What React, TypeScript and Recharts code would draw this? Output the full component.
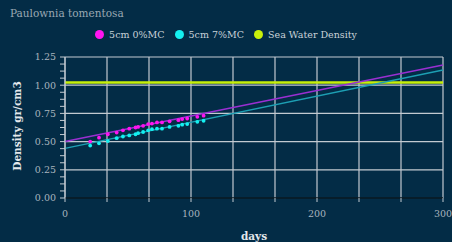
import React from 'react';
import {
  ComposedChart,
  Scatter,
  Line,
  XAxis,
  YAxis,
  CartesianGrid,
  ReferenceLine
} from 'recharts';

const days = [20, 27, 34, 41, 46, 51, 56, 58, 62, 66, 69, 73, 77, 83, 90, 93, 97, 105, 110];
const mc0 = [0.5, 0.535, 0.565, 0.58, 0.6, 0.615, 0.625, 0.63, 0.64, 0.655, 0.66, 0.67, 0.67, 0.68, 0.69, 0.7, 0.705, 0.72, 0.73];
const mc7 = [0.465, 0.485, 0.505, 0.53, 0.545, 0.555, 0.565, 0.575, 0.585, 0.6, 0.61, 0.615, 0.615, 0.63, 0.64, 0.65, 0.655, 0.675, 0.685];

const fitDays = [0, 300];
const fit0 = [0.5, 1.18];
const fit7 = [0.44, 1.135];
const seaWater = [1.025, 1.025];

const xTicks = [0, 100 / 3, 200 / 3, 100, 400 / 3, 500 / 3, 200, 700 / 3, 800 / 3, 300];
const yTicks = [0, 0.0625, 0.125, 0.1875, 0.25, 0.3125, 0.375, 0.4375, 0.5, 0.5625, 0.625, 0.6875, 0.75, 0.8125, 0.875, 0.9375, 1, 1.0625, 1.125, 1.1875, 1.25];
const yGrid = [0.25, 0.5, 0.75, 1, 1.25];

const pts0 = days.map((d, i) => ({ day: d, v: mc0[i] }));
const pts7 = days.map((d, i) => ({ day: d, v: mc7[i] }));
const line0 = fitDays.map((d, i) => ({ day: d, v: fit0[i] }));
const line7 = fitDays.map((d, i) => ({ day: d, v: fit7[i] }));
const lineSea = fitDays.map((d, i) => ({ day: d, v: seaWater[i] }));

const BG = '#032c46';
const GRID = '#c3cad1';
const FONT = '"DejaVu Serif", serif';

const Dot = (color: string) => (props: any) => (
  <circle cx={props.cx} cy={props.cy} r={1.9} fill={color} />
);

const legend = [
  { name: '5cm 0%MC', color: '#ff14f0' },
  { name: '5cm 7%MC', color: '#14f0f0' },
  { name: 'Sea Water Density', color: '#c8f00a' }
];

export default function App() {
  return (
    <div style={{ position: 'fixed', left: 0, top: 0, width: 452, height: 242, background: BG, overflow: 'hidden', fontFamily: FONT }}>
      <div style={{ position: 'absolute', left: 10, top: 7, fontSize: 10.5, color: '#9aa8b3' }}>Paulownia tomentosa</div>
      <div style={{ position: 'absolute', left: 0, top: 29, width: 452, display: 'flex', justifyContent: 'center', gap: 10, fontSize: 9.5, color: '#c9d2d9' }}>
        {legend.map((l) => (
          <div key={l.name} style={{ display: 'flex', alignItems: 'center', gap: 5 }}>
            <span style={{ width: 9, height: 9, borderRadius: 5, background: l.color, display: 'inline-block' }} />
            <span>{l.name}</span>
          </div>
        ))}
      </div>
      <div style={{ position: 'absolute', left: 17, top: 126, transform: 'translate(-50%, -50%) rotate(-90deg)', fontSize: 10.5, fontWeight: 'bold', color: '#e4e8ec', whiteSpace: 'nowrap' }}>
        Density gr/cm3
      </div>
      <div style={{ position: 'absolute', left: 254, top: 236, transform: 'translate(-50%, -50%)', fontSize: 10.5, fontWeight: 'bold', color: '#e4e8ec' }}>
        days
      </div>
      <ComposedChart width={452} height={242} margin={{ top: 57, right: 9, left: 0, bottom: 0 }}>
        <CartesianGrid horizontal={false} stroke={GRID} strokeWidth={1.2} />
        {yGrid.map((v) => (
          <ReferenceLine key={v} y={v} stroke={GRID} strokeWidth={1.2} />
        ))}
        <XAxis
          type="number"
          dataKey="day"
          domain={[0, 300]}
          ticks={xTicks}
          interval={0}
          tickFormatter={(v: number) => (Math.abs(v % 100) < 0.01 ? String(v) : '')}
          axisLine={{ stroke: '#0a1822', strokeWidth: 1.5 }}
          tickLine={{ stroke: GRID }}
          tickSize={4}
          tickMargin={8}
          tick={{ fill: '#a9b5be', fontSize: 9.5, fontFamily: FONT }}
          height={44}
        />
        <YAxis
          type="number"
          dataKey="v"
          domain={[0, 1.25]}
          ticks={yTicks}
          interval={0}
          tickFormatter={(v: number) => (Math.abs(v % 0.25) < 0.001 ? v.toFixed(2) : '')}
          axisLine={{ stroke: GRID }}
          tickLine={{ stroke: GRID }}
          tickSize={5}
          tickMargin={4}
          tick={{ fill: '#a9b5be', fontSize: 9.5, fontFamily: FONT }}
          width={65}
        />
        <Line data={lineSea} dataKey="v" stroke="#c8f00a" strokeWidth={2.5} dot={false} isAnimationActive={false} />
        <Line data={line0} dataKey="v" stroke="#9a2fd2" strokeWidth={1.5} dot={false} isAnimationActive={false} />
        <Line data={line7} dataKey="v" stroke="#1d9fb3" strokeWidth={1.5} dot={false} isAnimationActive={false} />
        <Scatter data={pts0} dataKey="v" shape={Dot('#ff14f0')} isAnimationActive={false} />
        <Scatter data={pts7} dataKey="v" shape={Dot('#14f0f0')} isAnimationActive={false} />
      </ComposedChart>
    </div>
  );
}
